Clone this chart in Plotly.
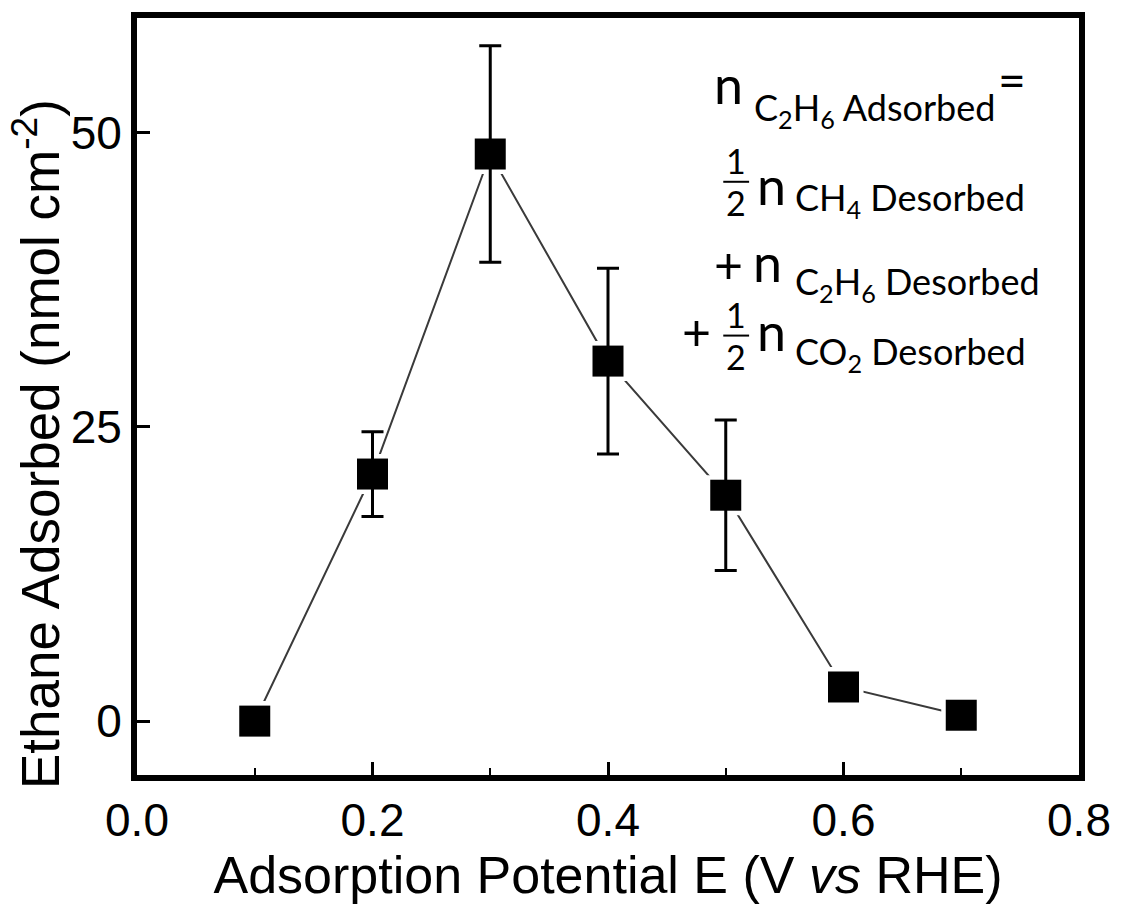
import plotly.graph_objects as go

# Adsorption potential (V vs RHE) and ethane adsorbed (nmol cm^-2)
potential = [0.1, 0.2, 0.3, 0.4, 0.5, 0.6, 0.7]
ethane_adsorbed = [0.0, 21.0, 48.2, 30.6, 19.2, 2.9, 0.5]
ethane_error = [0.0, 3.6, 9.2, 7.9, 6.4, 0.0, 0.0]

x_ticks = [0.0, 0.2, 0.4, 0.6, 0.8]
x_tick_text = ["0.0", "0.2", "0.4", "0.6", "0.8"]
y_ticks = [0, 25, 50]
y_tick_text = ["0", "25", "50"]

W, H = 1123, 907
M_L, M_R, M_T, M_B = 137, 38, 18, 131
PW, PH = W - M_L - M_R, H - M_T - M_B

AX_FONT = "Liberation Sans, Arial, sans-serif"
EQ_FONT = "Lato, Open Sans, sans-serif"

fig = go.Figure()

# connecting line
fig.add_trace(go.Scatter(
    x=potential, y=ethane_adsorbed, mode="lines",
    line=dict(color="#3a3a3a", width=2), hoverinfo="skip", showlegend=False,
))
# white halo around symbols (line gap)
fig.add_trace(go.Scatter(
    x=potential, y=ethane_adsorbed, mode="markers",
    marker=dict(symbol="square", size=40, color="white", line=dict(width=0)),
    hoverinfo="skip", showlegend=False,
))
# symbols with error bars
fig.add_trace(go.Scatter(
    x=potential, y=ethane_adsorbed, mode="markers",
    marker=dict(symbol="square", size=31, color="black", line=dict(width=0)),
    error_y=dict(type="data", array=ethane_error, visible=True,
                 color="black", thickness=3, width=11),
    showlegend=False,
))


def px(xp):
    return (xp - M_L) / PW


def py(yp):
    return (H - M_B - yp) / PH


def txt(x, y, text, size, xanchor="left", family=EQ_FONT, angle=0):
    fig.add_annotation(
        x=px(x), y=py(y), xref="paper", yref="paper", text=text,
        showarrow=False, xanchor=xanchor, yanchor="middle", textangle=angle,
        font=dict(family=family, size=size, color="black"),
    )


def half(xc, ybar):
    txt(xc, ybar - 21, "1", 34, "center")
    txt(xc, ybar + 21, "2", 34, "center")
    fig.add_shape(type="line", xref="paper", yref="paper",
                  x0=px(xc - 13), x1=px(xc + 13), y0=py(ybar), y1=py(ybar),
                  line=dict(color="black", width=2))


# equation text
txt(716, 84, "n", 52)
txt(756, 110, "C<sub>2</sub>H<sub>6</sub> Adsorbed", 36)
txt(1001, 80, "=", 48)

half(740, 182)
txt(759, 185, "n", 52)
txt(797, 200, "CH<sub>4</sub> Desorbed", 36)

txt(716, 264, "+", 50)
txt(755, 262, "n", 52)
txt(797, 284, "C<sub>2</sub>H<sub>6</sub> Desorbed", 36)

txt(683, 331, "+", 50)
half(740, 336)
txt(759, 331, "n", 52)
txt(797, 354, "CO<sub>2</sub> Desorbed", 36)

# y-axis title
txt(36, 445, "Ethane Adsorbed (nmol cm<sup>-2</sup>)", 53, "center",
    family=AX_FONT, angle=-90)

axis_common = dict(
    showline=True, linecolor="black", linewidth=6, mirror=True,
    ticks="inside", ticklen=13, tickwidth=3, tickcolor="black",
    showgrid=False, zeroline=False,
    tickfont=dict(family=AX_FONT, size=46, color="black"),
)

fig.update_xaxes(
    range=[0, 0.8], tickvals=x_ticks, ticktext=x_tick_text,
    minor=dict(ticks="inside", dtick=0.1, tick0=0, ticklen=7, tickwidth=2,
               tickcolor="black", showgrid=False),
    title=dict(text="Adsorption Potential E (V <i>vs</i> RHE)",
               font=dict(family=AX_FONT, size=52, color="black"), standoff=12),
    **axis_common,
)
fig.update_yaxes(
    range=[-4.58, 59.76], tickvals=y_ticks, ticktext=y_tick_text,
    **axis_common,
)

fig.update_layout(
    width=W, height=H, autosize=False,
    margin=dict(l=M_L, r=M_R, t=M_T, b=M_B),
    paper_bgcolor="white", plot_bgcolor="white",
)

fig.write_html("out.html")
